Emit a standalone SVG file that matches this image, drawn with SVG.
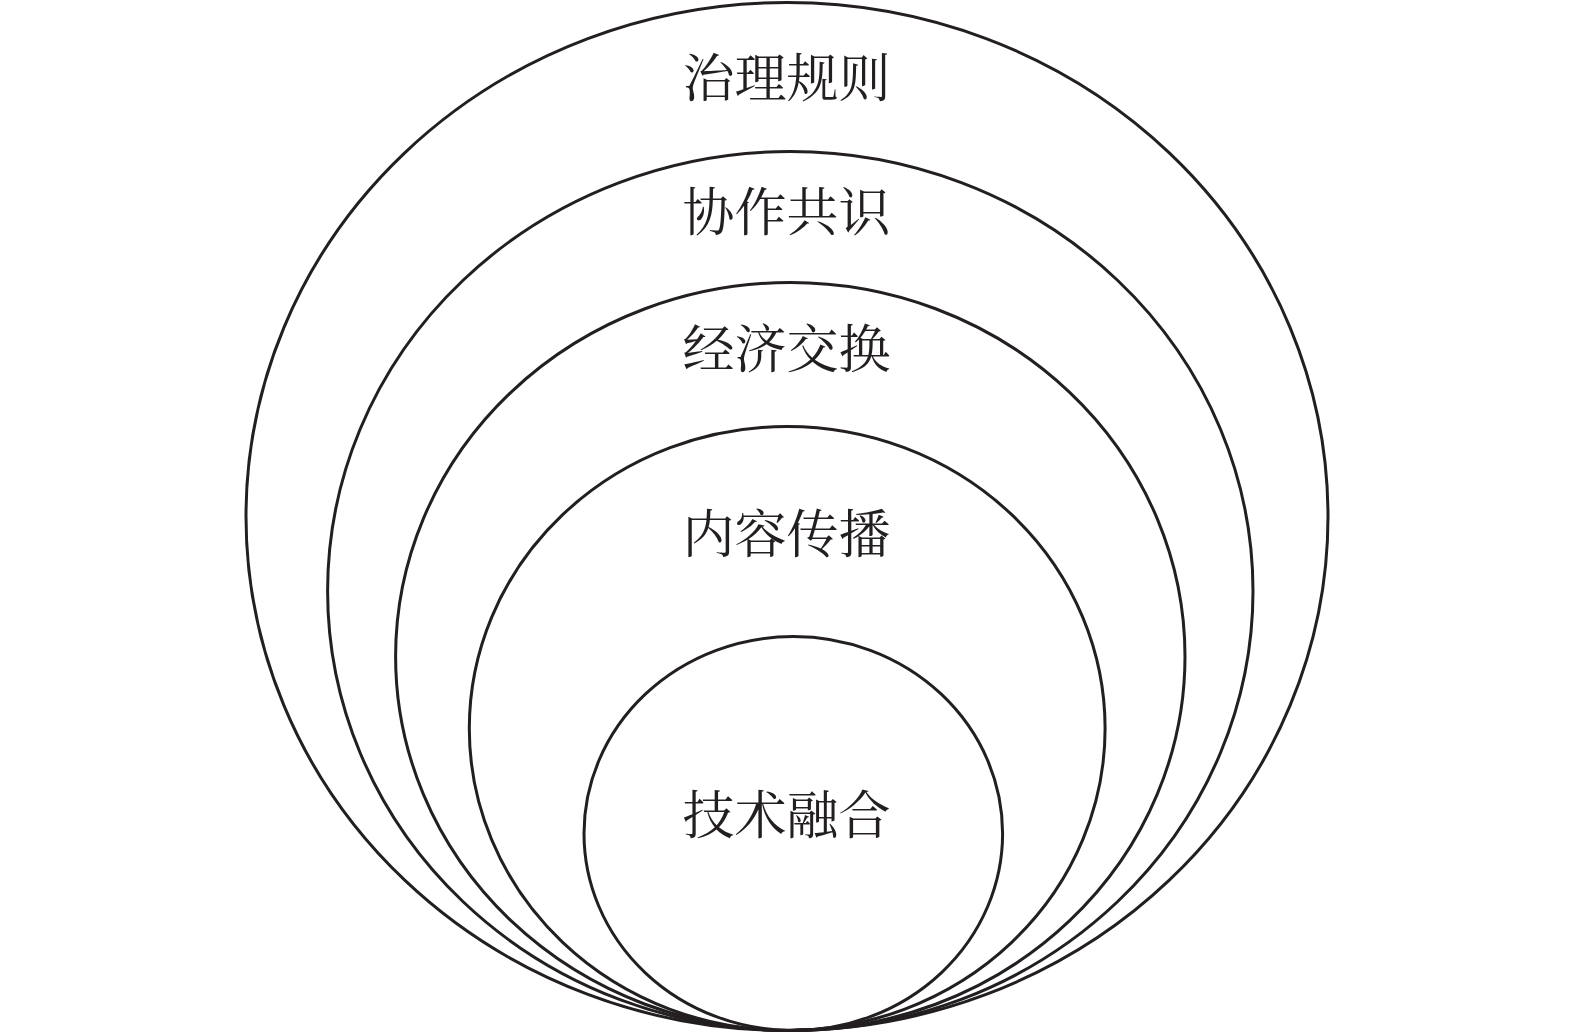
<svg xmlns="http://www.w3.org/2000/svg" width="1575" height="1035" viewBox="0 0 1575 1035">
<style>
.ring{fill:none;stroke:#231f20;stroke-width:3}
.lbl{font-family:"Noto Serif CJK SC","Noto Sans CJK SC",serif;font-size:52px;fill:#231f20;text-anchor:middle;dominant-baseline:central}
</style>
<rect width="1575" height="1035" fill="#ffffff"/>
<g id="n1"><ellipse class="ring" cx="787" cy="516.5" rx="541" ry="514"/><text class="lbl" x="786.5" y="74">治理规则</text></g>
<g id="n2"><ellipse class="ring" cx="790.3" cy="591" rx="462.7" ry="439.5"/><text class="lbl" x="786.5" y="208">协作共识</text></g>
<g id="n3"><ellipse class="ring" cx="790.3" cy="656.5" rx="394.7" ry="374"/><text class="lbl" x="786.5" y="345">经济交换</text></g>
<g id="n4"><ellipse class="ring" cx="787.2" cy="728.5" rx="317.9" ry="302"/><text class="lbl" x="786.5" y="530">内容传播</text></g>
<g id="n5"><ellipse class="ring" cx="793.3" cy="833.5" rx="209.3" ry="197"/><text class="lbl" x="786.5" y="811">技术融合</text></g>
<g id="connectors"></g>
</svg>
